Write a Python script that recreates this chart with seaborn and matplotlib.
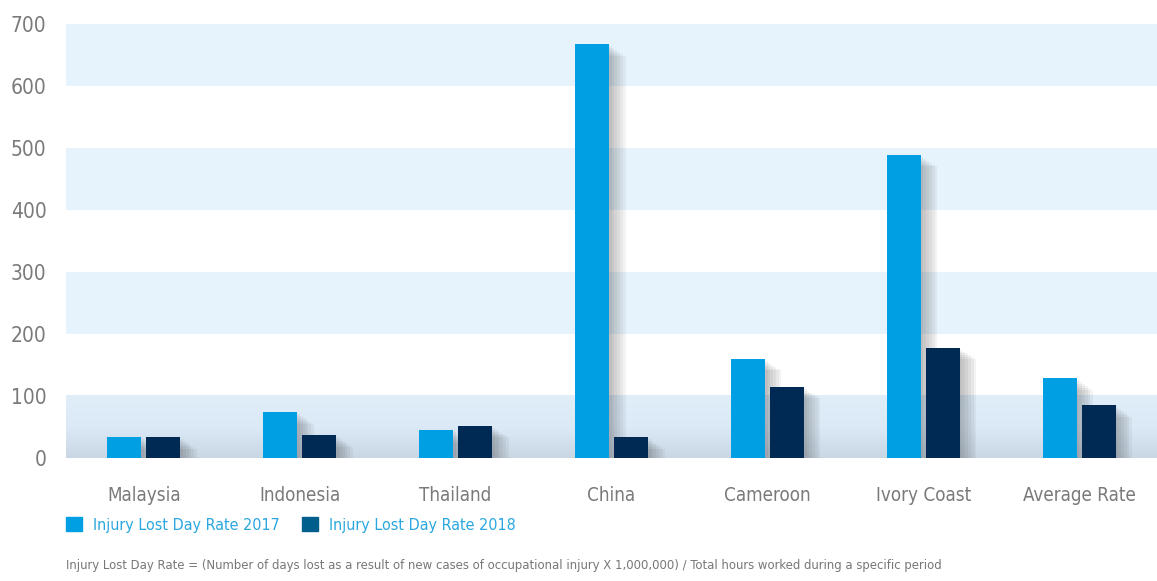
import matplotlib
matplotlib.use("Agg")
import matplotlib.pyplot as plt
import matplotlib.patheffects as pe
import numpy as np
import seaborn as sns
import pandas as pd
from matplotlib.patches import Patch
from matplotlib.colors import LinearSegmentedColormap

categories = ["Malaysia", "Indonesia", "Thailand", "China", "Cameroon", "Ivory Coast", "Average Rate"]
rate_2017 = [34, 74, 45, 668, 160, 489, 129]
rate_2018 = [34, 37, 52, 34, 115, 178, 85]
series = ["Injury Lost Day Rate 2017", "Injury Lost Day Rate 2018"]
yticks = [0, 100, 200, 300, 400, 500, 600, 700]
footnote = ("Injury Lost Day Rate = (Number of days lost as a result of new cases of occupational "
            "injury X 1,000,000) / Total hours worked during a specific period")

df = pd.DataFrame({
    "category": categories * 2,
    "value": rate_2017 + rate_2018,
    "series": [series[0]] * len(categories) + [series[1]] * len(categories),
})

sns.set_theme(style="white")
plt.rcParams['font.family'] = ['DejaVu Sans']
plt.rcParams['font.stretch'] = 'condensed'

fig = plt.figure(figsize=(11.57, 5.81), dpi=100)
ax = fig.add_axes([0.057, 0.2117, 0.943, 0.747])

bar_colors = ["#009FE3", "#002A54"]
sns.barplot(data=df, x="category", y="value", hue="series", palette=bar_colors,
            width=0.5, gap=0.13, ax=ax, legend=False, zorder=3, saturation=1)

shadow = [pe.SimplePatchShadow(offset=(o, -o * 0.7), shadow_rgbFace="#333333", alpha=0.06)
          for o in (12, 10, 8, 6, 4, 2)]
for p in ax.patches:
    p.set_path_effects(shadow + [pe.Normal()])
    p.set_linewidth(0)

for lo in [200, 400, 600]:
    ax.axhspan(lo, lo + 100, color="#E6F3FC", zorder=0, lw=0)
grad = np.linspace(0, 1, 100).reshape(-1, 1)
cmap = LinearSegmentedColormap.from_list("band", ["#C9D7E4", "#DCEAF7", "#E0EEFA"])
ax.imshow(grad, extent=[-0.5, len(categories) - 0.5, 0, 100], origin="lower",
          aspect="auto", cmap=cmap, zorder=0)

ax.set_xlim(-0.5, len(categories) - 0.5)
ax.set_ylim(0, 700)
ax.set_yticks(yticks)
ax.set_yticklabels([str(v) for v in yticks], fontsize=15, color="#7A7A7A")
ax.tick_params(axis="y", pad=14, length=0)
ax.tick_params(axis="x", pad=20, length=0, labelsize=13.5, labelcolor="#7A7A7A")
ax.set_xlabel("")
ax.set_ylabel("")
for s in ax.spines.values():
    s.set_visible(False)

handles = [Patch(color="#009FE3"), Patch(color="#005E8C")]
leg = fig.legend(handles, series, loc="lower left", bbox_to_anchor=(0.057, 0.083), ncol=2,
                 frameon=False, fontsize=11.5, handlelength=1.0, handleheight=1.0,
                 handletextpad=0.7, columnspacing=1.4, borderpad=0, borderaxespad=0)
for t in leg.get_texts():
    t.set_color("#2AA7E0")

fig.text(0.057, 0.015, footnote, fontsize=9.4, color="#777777", ha="left", va="bottom")

fig.savefig("out.png", dpi=100)
